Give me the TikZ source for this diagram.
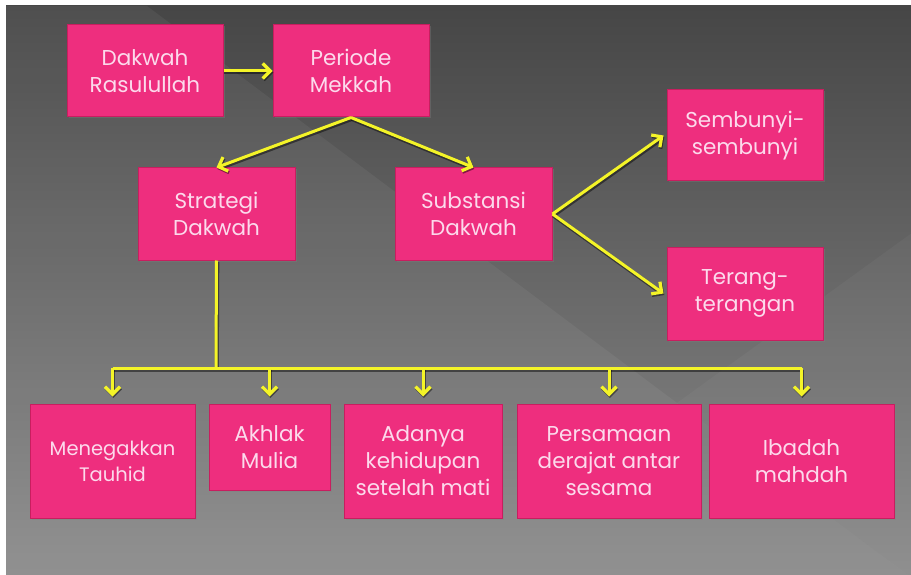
\documentclass[tikz,border=0pt]{standalone}
\usepackage{fontspec}
\setmainfont{Poppins}
\usetikzlibrary{arrows.meta,shadows}
\definecolor{boxpink}{RGB}{238,46,126}
\definecolor{boxedge}{RGB}{200,30,95}
\definecolor{txtpink}{RGB}{252,218,236}
\definecolor{arrowyel}{RGB}{244,244,40}
\definecolor{bgtop}{RGB}{70,70,70}
\definecolor{bgbot}{RGB}{140,140,140}
\tikzset{
  box/.style={draw=boxedge, line width=1pt, fill=boxpink, text=txtpink, align=center,
    inner sep=2pt, font=\fontsize{21.5}{27}\selectfont,
    drop shadow={opacity=0.35, shadow xshift=1.5pt, shadow yshift=-1.5pt}},
  yline/.style={draw=arrowyel, line width=3pt,
    preaction={draw=black, opacity=0.45, line width=4pt, transform canvas={xshift=0.8pt,yshift=-1.5pt}}},
  yarr/.style={yline, -{Straight Barb[length=7.5pt,width=15pt,line width=3.2pt]}},
}
\begin{document}
\begin{tikzpicture}[x=1pt,y=-1pt]
\useasboundingbox (0,0) rectangle (911,575);
\fill[white] (0,0) rectangle (911,575);
\shade[top color=bgtop,bottom color=bgbot] (6,6) rectangle (916,581);
% faint diagonal light region
\fill[white, opacity=0.05] (6,6) -- (147,6) -- (677,403) -- (916,581) -- (6,581) -- cycle;
\fill[white, opacity=0.035] (677,403) -- (916,230) -- (916,581) -- cycle;

\node[box, minimum width=156pt, minimum height=92pt] (dr) at (145,71) {Dakwah\\Rasulullah};
\node[box, minimum width=156pt, minimum height=92pt] (pm) at (351,71) {Periode\\Mekkah};
\node[box, minimum width=157pt, minimum height=92pt] (sd) at (216.5,214) {Strategi\\Dakwah};
\node[box, minimum width=157pt, minimum height=92pt] (sb) at (473.5,214) {Substansi\\Dakwah};
\node[box, minimum width=156pt, minimum height=91pt] (ss) at (745,135.5) {Sembunyi-\\sembunyi};
\node[box, minimum width=156pt, minimum height=93pt] (tt) at (745,293.5) {Terang-\\terangan};

\node[box, minimum width=165pt, minimum height=114pt, font=\fontsize{19.5}{26}\selectfont] (b1) at (112.5,461) {Menegakkan\\Tauhid};
\node[box, minimum width=121pt, minimum height=86pt] (b2) at (269.5,447) {Akhlak\\Mulia};
\node[box, minimum width=158pt, minimum height=114pt] (b3) at (423,461) {Adanya\\kehidupan\\setelah mati};
\node[box, minimum width=184pt, minimum height=114pt] (b4) at (609,461) {Persamaan\\derajat antar\\sesama};
\node[box, minimum width=185pt, minimum height=114pt] (b5) at (801.5,461) {Ibadah\\mahdah};

\coordinate (bus) at (216,368);

\draw[yarr] (dr.east) -- (pm.west);
\draw[yarr] (pm.south) -- (sd.north);
\draw[yarr] (pm.south) -- (sb.north);
\draw[yarr] (sb.east) -- ([xshift=-3pt]ss.west);
\draw[yarr] (sb.east) -- ([xshift=-3pt]tt.west);

\draw[yline] (sd.south) -- (bus);
\draw[yline] (b1.north |- bus) -- (b5.north |- bus);
\foreach \b in {b1,b2,b3,b4,b5}
  \draw[yarr] (\b.north |- bus) -- ([yshift=7pt]\b.north);
\end{tikzpicture}
\end{document}
